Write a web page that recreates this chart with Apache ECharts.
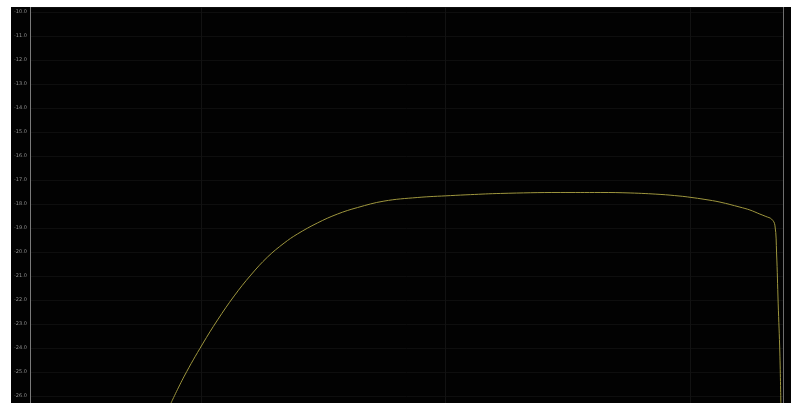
<!DOCTYPE html>
<html>
<head>
<meta charset="utf-8">
<script src="https://cdn.jsdelivr.net/npm/echarts@6/dist/echarts.min.js"></script>
<style>
html,body{margin:0;padding:0;background:#fff;width:797px;height:413px;overflow:hidden;}
#chart{position:absolute;left:11px;top:7px;width:780px;height:396px;background:#020202;}
</style>
</head>
<body>
<div id="chart"></div>
<script>
// Frequency (Hz) and level (dBFS)
const freqHz = [75.4, 85.5, 101.6, 117.0, 136.8, 160.0, 187.2, 218.8, 248.1, 299.5, 361.4, 436.1, 560.1, 766.6, 1048, 1265, 1677, 2948, 4292, 5690, 7543, 9103, 10000, 11514, 13257, 15999, 17575, 19307, 20427, 21556, 22233, 22590, 22931, 23299, 23519];
const levelDb = [-26.30, -25.17, -23.83, -22.83, -21.83, -20.96, -20.21, -19.63, -19.25, -18.79, -18.42, -18.15, -17.88, -17.73, -17.65, -17.61, -17.56, -17.52, -17.52, -17.54, -17.60, -17.67, -17.72, -17.81, -17.92, -18.13, -18.25, -18.42, -18.52, -18.63, -18.88, -20.04, -22.13, -24.21, -26.29];
const freqRange = [20, 24000];
const levelRange = [-26.2917, -9.7917];

const chart = echarts.init(document.getElementById('chart'), null, {renderer: 'canvas'});
chart.setOption({
  animation: false,
  backgroundColor: 'transparent',
  grid: {left: 19, right: 8, top: 0, bottom: 0, containLabel: false, outerBoundsMode: 'none'},
  xAxis: {
    type: 'log',
    logBase: 10,
    min: freqRange[0],
    max: freqRange[1],
    axisLine: {show: false},
    axisTick: {show: false},
    axisLabel: {show: false},
    splitLine: {show: true, lineStyle: {color: '#121212', width: 1}}
  },
  yAxis: [{
    type: 'value',
    min: levelRange[0],
    max: levelRange[1],
    minInterval: 1,
    maxInterval: 1,
    splitNumber: 16,
    name: 'dBFS',
    nameLocation: 'middle',
    nameRotate: 90,
    nameGap: 14,
    nameTextStyle: {color: '#cfcfcf', fontSize: 5, fontFamily: 'DejaVu Sans'},
    axisLine: {show: true, lineStyle: {color: '#7a7a7a', width: 1}},
    axisTick: {show: false},
    axisLabel: {
      color: '#8f8f8f', fontSize: 5, fontFamily: 'DejaVu Sans', margin: 3,
      showMinLabel: false, showMaxLabel: false,
      formatter: v => (Math.abs(v - Math.round(v)) < 1e-6) ? v.toFixed(1) : ''
    },
    splitLine: {show: true, lineStyle: {color: '#0e0e0e', width: 1}}
  }, {
    type: 'value',
    position: 'right',
    min: levelRange[0],
    max: levelRange[1],
    axisLine: {show: true, lineStyle: {color: '#6e6e6e', width: 1}},
    axisTick: {show: false},
    axisLabel: {show: false},
    splitLine: {show: false}
  }],
  series: [{
    type: 'line',
    yAxisIndex: 0,
    data: freqHz.map((f, i) => [f, levelDb[i]]),
    showSymbol: false,
    smooth: 0.4,
    lineStyle: {color: '#9e963e', width: 1},
    clip: true
  }]
});
</script>
</body>
</html>
